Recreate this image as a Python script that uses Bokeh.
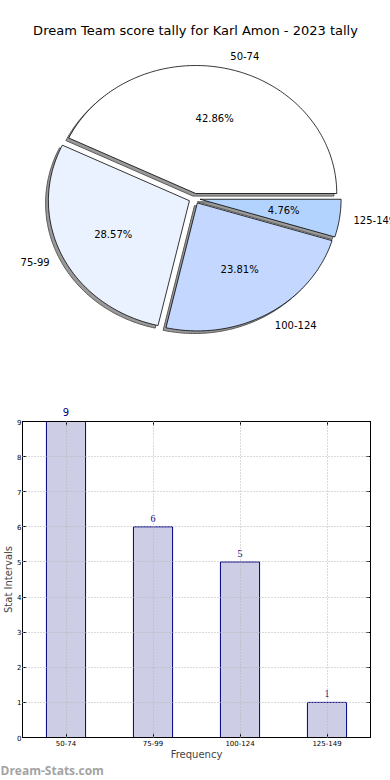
import numpy as np
from bokeh.plotting import figure
from bokeh.layouts import column
from bokeh.models import (Range1d, FactorRange, ColumnDataSource, LabelSet, Label, FixedTicker,
                          CategoricalAxis, LinearAxis)
from bokeh.embed import file_html
from bokeh.resources import INLINE
from bokeh.core.properties import value

# ---------------- data ----------------
title_text = "Dream Team score tally for Karl Amon - 2023 tally"
categories = ["50-74", "75-99", "100-124", "125-149"]
counts = [9, 6, 5, 1]
pie_colors = ["#ffffff", "#ebf2ff", "#c4d7ff", "#b3d3ff"]
explode = [0.04, 0.04, 0.04, 0.04]
y_ticks = [0, 1, 2, 3, 4, 5, 6, 7, 8, 9]
y_max = 9
x_label = "Frequency"
y_label = "Stat Intervals"
watermark = "Dream-Stats.com"

FONT = "DejaVu Sans"
W = 390

# ---------------- pie ----------------
H1 = 380
cx, cy, rx, ry = 194, 198, 141, 128  # pie centre / radii in pixels
pie = figure(width=W, height=H1,
             x_range=Range1d(-cx / rx, (W - cx) / rx),
             y_range=Range1d(-(H1 - cy) / ry, cy / ry),
             output_backend="svg", toolbar_location=None,
             x_axis_location=None, y_axis_location=None,
             min_border=0, outline_line_color=None)
pie.grid.visible = False

total = float(sum(counts))
fracs = np.array(counts) / total
ends = np.cumsum(fracs) * 2 * np.pi
starts = ends - fracs * 2 * np.pi

wx, wy, shx, shy = [], [], [], []
lab_l, lab_r, pct = ([], [], []), ([], [], []), ([], [], [])
for s, e, ex, f, cat in zip(starts, ends, explode, fracs, categories):
    m = (s + e) / 2
    ox, oy = ex * np.cos(m), ex * np.sin(m)
    t = np.linspace(s, e, max(int(np.degrees(e - s)), 2) + 1)
    px = np.concatenate([[ox], ox + np.cos(t), [ox]])
    py = np.concatenate([[oy], oy + np.sin(t), [oy]])
    wx.append(list(px)); wy.append(list(py))
    shx.append(list(px - 0.02)); shy.append(list(py - 0.02))
    lx, ly = ox + 1.1 * np.cos(m), oy + 1.1 * np.sin(m)
    tgt = lab_l if lx > 0 else lab_r
    tgt[0].append(lx); tgt[1].append(ly); tgt[2].append(cat)
    pct[0].append(ox + 0.6 * np.cos(m)); pct[1].append(oy + 0.6 * np.sin(m))
    pct[2].append(f"{f * 100:.2f}%")

pie.patches(shx, shy, fill_color="#9a9a9a", line_color="#5a5a5a", line_width=1)
pie.patches(wx, wy, fill_color=pie_colors, line_color="black", line_width=0.8)

for grp, al in ((lab_l, "left"), (lab_r, "right"), (pct, "center")):
    pie.text(x=grp[0], y=grp[1], text=grp[2], text_align=al, text_baseline="middle",
             text_font=value(FONT), text_font_size="10px", text_color="black")

pie.add_layout(Label(x=(195 - cx) / rx, y=(cy - 30) / ry, text=title_text,
                     text_align="center", text_baseline="middle",
                     text_font=FONT, text_font_size="13px", text_color="black"))

# ---------------- bars ----------------
src = ColumnDataSource(dict(cat=categories, count=counts, label=[str(c) for c in counts]))
bars = figure(width=W, height=382, x_range=FactorRange(*categories), y_range=Range1d(0, y_max),
              output_backend="svg", toolbar_location=None,
              min_border_left=19, min_border_right=20, min_border_top=41, min_border_bottom=22)

bars.vbar(x="cat", top="count", width=0.45, source=src,
          fill_color="#cdcde6", line_color="#000080", line_width=1)

for g in (bars.xgrid, bars.ygrid):
    g.grid_line_color = "#b4b4b4"
    g.grid_line_dash = "1 2"
    g.grid_line_width = 1
    g.level = "overlay"

bars.outline_line_color = "black"
bars.outline_line_alpha = 1
bars.outline_line_width = 1

bars.yaxis.ticker = FixedTicker(ticks=y_ticks)
for ax in (bars.xaxis[0], bars.yaxis[0]):
    ax.major_label_text_font = FONT
    ax.major_label_text_font_size = "7px"
    ax.major_label_text_color = "black"
    ax.major_tick_in = 4
    ax.major_tick_out = 0
    ax.minor_tick_in = 0
    ax.minor_tick_out = 0
    ax.major_label_standoff = 2
    ax.axis_label_standoff = 0
    ax.axis_label_text_font = FONT
    ax.axis_label_text_font_size = "10px"
    ax.axis_label_text_font_style = "normal"
    ax.axis_line_color = "black"
    ax.major_tick_line_color = "black"
bars.yaxis.major_label_standoff = 1
bars.xaxis.axis_label = x_label
bars.yaxis.axis_label = y_label

# value labels: those inside the frame via LabelSet, those at the frame top via a top axis
inside = ColumnDataSource(dict(cat=[c for c, v in zip(categories, counts) if v < y_max],
                               count=[v for v in counts if v < y_max],
                               label=[str(v) for v in counts if v < y_max]))
bars.add_layout(LabelSet(x="cat", y="count", text="label", source=inside, y_offset=5,
                         text_align="center", text_baseline="bottom",
                         text_font=FONT, text_font_size="10px", text_color="#000080"))
top_factors = [str(v) if v >= y_max else " " * (i + 1) for i, v in enumerate(counts)]
bars.extra_x_ranges = {"top": FactorRange(*top_factors)}
top_ax = CategoricalAxis(x_range_name="top",
                         major_label_text_font=FONT, major_label_text_font_size="10px",
                         major_label_text_color="#000080", major_label_standoff=4,
                         major_tick_in=4, major_tick_out=0, axis_line_color="black")
bars.add_layout(top_ax, "above")
right_ax = LinearAxis(ticker=FixedTicker(ticks=y_ticks),
                      major_label_overrides={t: "" for t in y_ticks},
                      major_tick_in=4, major_tick_out=0, minor_tick_in=0, minor_tick_out=0,
                      major_label_standoff=0, axis_line_color="black")
bars.add_layout(right_ax, "right")

# ---------------- watermark ----------------
wm = figure(width=W, height=18, x_range=Range1d(0, W), y_range=Range1d(0, 18),
            output_backend="svg", toolbar_location=None,
            x_axis_location=None, y_axis_location=None,
            min_border=0, outline_line_color=None)
wm.grid.visible = False
wm.text(x=[0], y=[10], text=[watermark], text_align="left", text_baseline="middle",
        text_font=value("Open Sans"), text_font_size="12px", text_font_style="bold",
        text_color="#a3a3a3")

# each figure in its own container so that the column does not align their frames
layout = column(column(pie), column(bars), column(wm), spacing=0)
open("out.html", "w").write(file_html(layout, INLINE))
